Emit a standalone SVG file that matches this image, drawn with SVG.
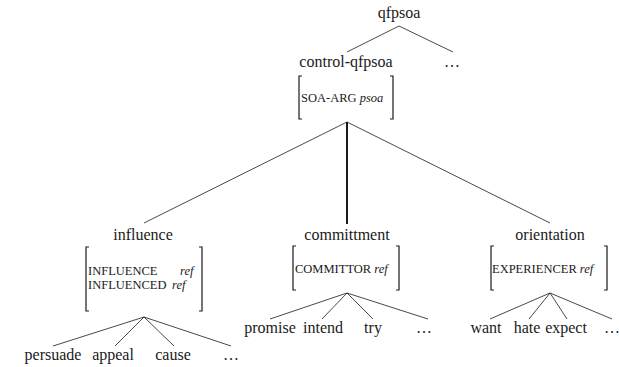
<svg xmlns="http://www.w3.org/2000/svg" width="619" height="367" viewBox="0 0 619 367">
<style>
text{font-family:"Liberation Serif","DejaVu Serif",serif;fill:#1a1a1a}
.t{font-size:16px;text-anchor:middle}
.f{font-size:12.5px}
.i{font-style:italic}
.e{stroke:#1a1a1a;stroke-width:0.8;fill:none}
.b{stroke:#1a1a1a;stroke-width:1.2;fill:none}
.v{stroke:#1a1a1a;stroke-width:2;fill:none}
</style>
<rect width="619" height="367" fill="#fff"/>
<g id="connectors">
<path class="e" d="M399,26L347,52M399,26L453,52"/>
<path class="e" d="M347,122L144,223M347,122L550,223"/>
<path class="v" d="M347,122V224"/>
<path class="e" d="M144,317L53,346M144,317L115,346M144,317L174,346M144,317L231,346"/>
<path class="e" d="M347,293L270,319M347,293L322,319M347,293L373,319M347,293L428,319"/>
<path class="e" d="M550,293L490,319M550,293L529,319M550,293L567,319M550,293L612,319"/>
</g>
<g id="qfpsoa"><text class="t" x="399" y="18">qfpsoa</text></g>
<g id="control-qfpsoa">
<text class="t" x="346" y="67">control-qfpsoa</text>
<path class="b" d="M302,76H299V119H302M390,76H393V119H390"/>
<text class="f" x="301" y="102">SOA-ARG <tspan class="i">psoa</tspan></text>
</g>
<g id="dots-top"><text class="t" x="452" y="67">…</text></g>
<g id="influence">
<text class="t" x="143" y="240">influence</text>
<path class="b" d="M89,247H86V311H89M199,247H202V311H199"/>
<text class="f" x="88" y="275">INFLUENCE</text><text class="f i" x="180" y="275">ref</text>
<text class="f" x="88" y="289">INFLUENCED</text><text class="f i" x="172" y="289">ref</text>
</g>
<g id="committment">
<text class="t" x="347" y="240">committment</text>
<path class="b" d="M296,246H293V290H296M396,246H399V290H396"/>
<text class="f" x="295" y="273">COMMITTOR <tspan class="i">ref</tspan></text>
</g>
<g id="orientation">
<text class="t" x="550" y="240">orientation</text>
<path class="b" d="M494,246H491V290H494M604,246H607V290H604"/>
<text class="f" x="492" y="273">EXPERIENCER <tspan class="i">ref</tspan></text>
</g>
<g id="leaves-influence">
<text class="t" x="53" y="360">persuade</text>
<text class="t" x="113" y="360">appeal</text>
<text class="t" x="173" y="360">cause</text>
<text class="t" x="231" y="360">…</text>
</g>
<g id="leaves-committment">
<text class="t" x="270" y="333">promise</text>
<text class="t" x="323" y="333">intend</text>
<text class="t" x="373" y="333">try</text>
<text class="t" x="424" y="333">…</text>
</g>
<g id="leaves-orientation">
<text class="t" x="486" y="333">want</text>
<text class="t" x="527" y="333">hate</text>
<text class="t" x="566" y="333">expect</text>
<text class="t" x="612" y="333">…</text>
</g>
</svg>
